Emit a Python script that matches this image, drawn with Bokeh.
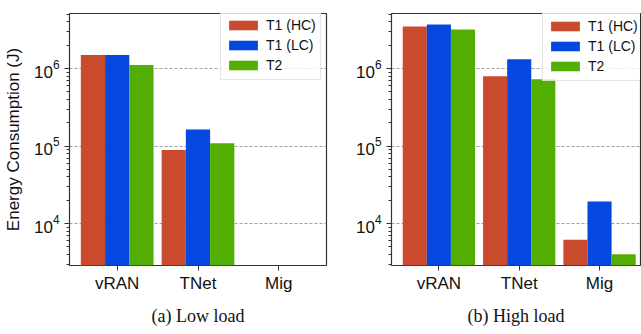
from bokeh.plotting import figure
from bokeh.layouts import row
from bokeh.models import Range1d, FixedTicker, Title, Legend
from bokeh.embed import file_html
from bokeh.resources import INLINE

categories = ["vRAN", "TNet", "Mig"]
series_names = ["T1 (HC)", "T1 (LC)", "T2"]
colors = ["#C94A2C", "#0548E0", "#52AE02"]

# Low load (a)
low_t1_hc = [1.49e6, 8.9e4, 0]
low_t1_lc = [1.49e6, 1.64e5, 0]
low_t2 = [1.11e6, 1.09e5, 0]

# High load (b)
high_t1_hc = [3.48e6, 7.96e5, 6.2e3]
high_t1_lc = [3.70e6, 1.32e6, 1.93e4]
high_t2 = [3.19e6, 7.30e5, 4.04e3]

caption_a = "(a) Low load"
caption_b = "(b) High load"
y_label = "Energy Consumption (J)"

SANS = "Liberation Sans"
SERIF = "Liberation Serif"
Y_LO, Y_HI = 10 ** 3.46, 10 ** 6.71
BAR_W = 0.3
OFFSETS = [-0.3, 0.0, 0.3]


def make_panel(series, caption, width, mb_left, mb_right, mb_top, mb_bottom, with_label, legend_xy, x_end):
    p = figure(width=width, height=334, y_axis_type="log",
               x_range=Range1d(-0.59, x_end), y_range=Range1d(Y_LO, Y_HI),
               output_backend="svg", toolbar_location=None,
               min_border_left=mb_left, min_border_right=mb_right,
               min_border_top=mb_top, min_border_bottom=mb_bottom)
    p.background_fill_color = "white"
    p.border_fill_color = "white"
    p.outline_line_color = "#333333"
    p.outline_line_width = 1.2

    renderers = []
    for vals, name, col, off in zip(series, series_names, colors, OFFSETS):
        xs = [i + off for i, v in enumerate(vals) if v > 0]
        tops = [v for v in vals if v > 0]
        r = p.vbar(x=xs, top=tops, bottom=1, width=BAR_W, fill_color=col, line_color=None)
        renderers.append((name, [r]))

    legend = Legend(items=renderers, location=legend_xy)
    legend.margin = 0
    legend.padding = 4
    legend.spacing = 0
    legend.glyph_width = 36
    legend.glyph_height = 12
    legend.label_height = 20
    legend.label_standoff = 5
    legend.label_text_font = SANS
    legend.label_text_font_size = "14px"
    legend.label_text_color = "#111111"
    legend.border_line_color = "#cccccc"
    legend.border_line_width = 1
    legend.background_fill_alpha = 0.8
    p.add_layout(legend)

    p.xgrid.visible = False
    p.ygrid.grid_line_color = "#888888"
    p.ygrid.grid_line_dash = "3 2"
    p.ygrid.grid_line_width = 0.8

    xa = p.xaxis[0]
    xa.ticker = FixedTicker(ticks=list(range(len(categories))))
    xa.major_label_overrides = {i: c for i, c in enumerate(categories)}
    xa.major_label_text_font = SANS
    xa.major_label_text_font_size = "17px"
    xa.major_label_text_color = "#111111"
    xa.major_tick_out = 5
    xa.major_tick_in = 0
    xa.minor_tick_out = 0
    xa.axis_line_color = None
    xa.major_tick_line_color = "#333333"
    xa.major_label_standoff = 3

    ya = p.yaxis[0]
    ya.major_label_text_font = SANS
    ya.major_label_text_font_size = "17px"
    ya.major_label_text_color = "#111111"
    ya.major_tick_out = 5
    ya.major_tick_in = 0
    ya.minor_tick_out = 3
    ya.minor_tick_in = 0
    ya.axis_line_color = None
    ya.major_tick_line_color = "#333333"
    ya.minor_tick_line_color = "#333333"
    ya.major_label_standoff = 5
    if with_label:
        ya.axis_label = y_label
        ya.axis_label_text_font = SANS
        ya.axis_label_text_font_size = "17px"
        ya.axis_label_text_font_style = "normal"
        ya.axis_label_text_color = "#111111"
        ya.axis_label_standoff = 8

    t = Title(text=caption, align="center", text_font=SERIF, text_font_size="18px",
              text_font_style="normal", text_color="#111111", standoff=17)
    p.add_layout(t, "below")
    return p


p1 = make_panel([low_t1_hc, low_t1_lc, low_t2], caption_a, 334, 68, 8, 10, 68, True, (151, 185), 2.59)
p2 = make_panel([high_t1_hc, high_t1_lc, high_t2], caption_b, 307, 57, 1, 13, 67, False, (151, 184), 2.51)

layout = row(p1, p2)
open("out.html", "w").write(file_html(layout, INLINE))
